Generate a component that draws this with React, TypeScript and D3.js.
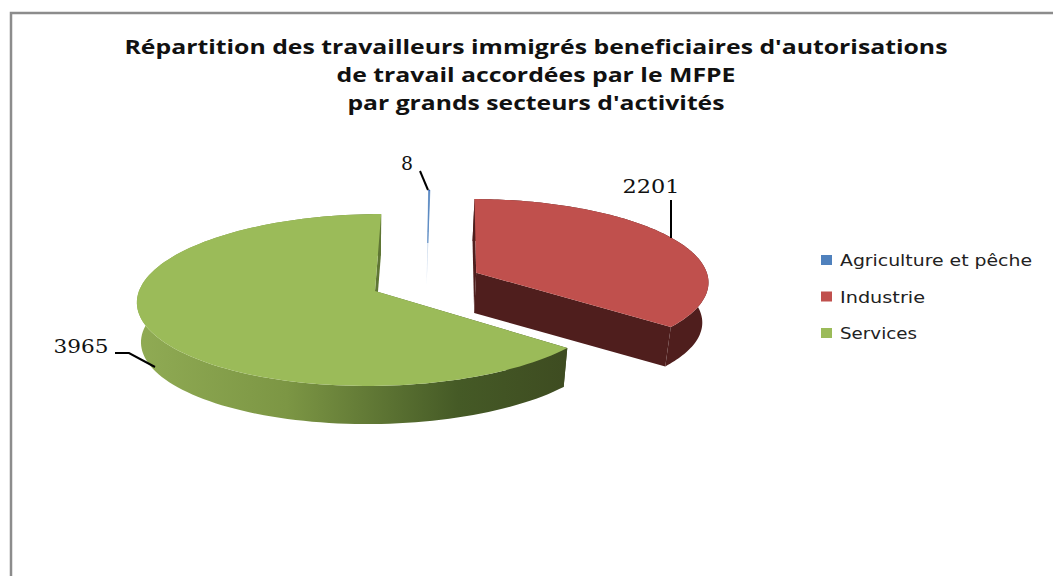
import React from 'react';
import * as d3 from 'd3';

const sectors = ['Agriculture et pêche', 'Industrie', 'Services'];
const counts = [8, 2201, 3965];
const colors = ['#4f81bd', '#c0504d', '#9bbb59'];

// how far each slice sits from the pie centre, its size, and its wall colour
const shiftX = [-13, 37, -65];
const shiftV = [0.6, 0.22, 0];
const sizes = [0.757, 1, 1];
const walls = ['#c6d6ea', '#4f1e1d', 'url(#greenWall)'];

const titleLines = [
  { text: "Répartition des travailleurs immigrés beneficiaires d'autorisations", y: 54, len: 823 },
  { text: 'de travail accordées par le MFPE', y: 82, len: 399 },
  { text: "par grands secteurs d'activités", y: 110, len: 377 },
];

const labelPos = [
  { x: 407, y: 170, w: 12, line: [[420, 171], [428, 190]] },
  { x: 651, y: 193, w: 57, line: [[671, 200], [671, 238]] },
  { x: 81, y: 353, w: 55, line: [[115, 353], [129, 353], [155, 367]] },
];

const legendWidths = [192, 85, 77];

// fake 3D: flat disc seen from above with some perspective
const X0 = 440;
const Y0 = 291;
const R = 236;
const K = 85;
const P = 0.105;
const DEPTH = 40;
const BOTTOM_X0 = 365;
const SHRINK_X = 0.982;
const SHRINK_Y = 0.98;

const project = (i: number, a: number, r: number, bottom = false): [number, number] => {
  const X = shiftX[i] + R * sizes[i] * r * Math.sin(a);
  const V = shiftV[i] + sizes[i] * r * Math.cos(a);
  const s = 1 / (1 + P * V);
  const x = X0 + X * s;
  const y = Y0 - K * V * s;
  if (!bottom) return [x, y];
  return [BOTTOM_X0 + (x - BOTTOM_X0) * SHRINK_X, Y0 + (y - Y0) * SHRINK_Y + DEPTH];
};

const arcPoints = (i: number, a0: number, a1: number, bottom: boolean) =>
  d3.range(0, 121).map((t) => project(i, a0 + ((a1 - a0) * t) / 120, 1, bottom));

const line = d3.line();

export default function App() {
  const slices = d3.pie<number>().sort(null).startAngle(0).endAngle(2 * Math.PI)(counts);

  return (
    <svg width={1053} height={576} style={{ position: 'absolute', left: 0, top: 0, background: '#fff' }}>
      <defs>
        <linearGradient id="greenWall" gradientUnits="userSpaceOnUse" x1={137} x2={565} y1={0} y2={0}>
          <stop offset="0" stopColor="#90ab54" />
          <stop offset="0.35" stopColor="#7c9644" />
          <stop offset="0.75" stopColor="#455a26" />
          <stop offset="1" stopColor="#3e4c21" />
        </linearGradient>
      </defs>

      <path d="M11,576V13H1053" fill="none" stroke="#8c8c8c" strokeWidth={2.5} />

      {titleLines.map((t) => (
        <text
          key={t.y}
          x={536}
          y={t.y}
          textAnchor="middle"
          fontFamily="'Open Sans', sans-serif"
          fontWeight={700}
          fontSize={20}
          fill="#111"
          textLength={t.len}
          lengthAdjust="spacingAndGlyphs"
        >
          {t.text}
        </text>
      ))}

      {slices.map((d, i) => {
        const top = arcPoints(i, d.startAngle, d.endAngle, false);
        const low = arcPoints(i, d.startAngle, d.endAngle, true);
        const apex = project(i, 0, 0);
        const lowApex = project(i, 0, 0, true);
        const n = top.length - 1;
        return (
          <g key={sectors[i]}>
            <path d={line([apex, top[0], low[0], lowApex])! + 'Z'} fill={walls[i]} />
            <path d={line([apex, top[n], low[n], lowApex])! + 'Z'} fill={walls[i]} />
            <path d={line([...low, ...top.slice().reverse()])! + 'Z'} fill={walls[i]} />
            <path
              d={line([apex, ...top])! + 'Z'}
              fill={colors[i]}
              stroke={i === 0 ? colors[i] : 'none'}
              strokeWidth={0.6}
            />
          </g>
        );
      })}

      {labelPos.map((l, i) => (
        <g key={counts[i]}>
          <path d={line(l.line as [number, number][])!} fill="none" stroke="#000" strokeWidth={2} />
          <text
            x={l.x}
            y={l.y}
            textAnchor="middle"
            fontFamily="'DejaVu Serif', serif"
            fontSize={18}
            fill="#111"
            textLength={l.w}
            lengthAdjust="spacingAndGlyphs"
          >
            {counts[i]}
          </text>
        </g>
      ))}

      {sectors.map((s, i) => (
        <g key={s}>
          <rect x={821} y={255 + i * 36.5} width={11} height={10} fill={colors[i]} />
          <text
            x={840}
            y={266 + i * 36.5}
            fontFamily="'DejaVu Sans', sans-serif"
            fontSize={15.5}
            fill="#222"
            textLength={legendWidths[i]}
            lengthAdjust="spacingAndGlyphs"
          >
            {s}
          </text>
        </g>
      ))}
    </svg>
  );
}
